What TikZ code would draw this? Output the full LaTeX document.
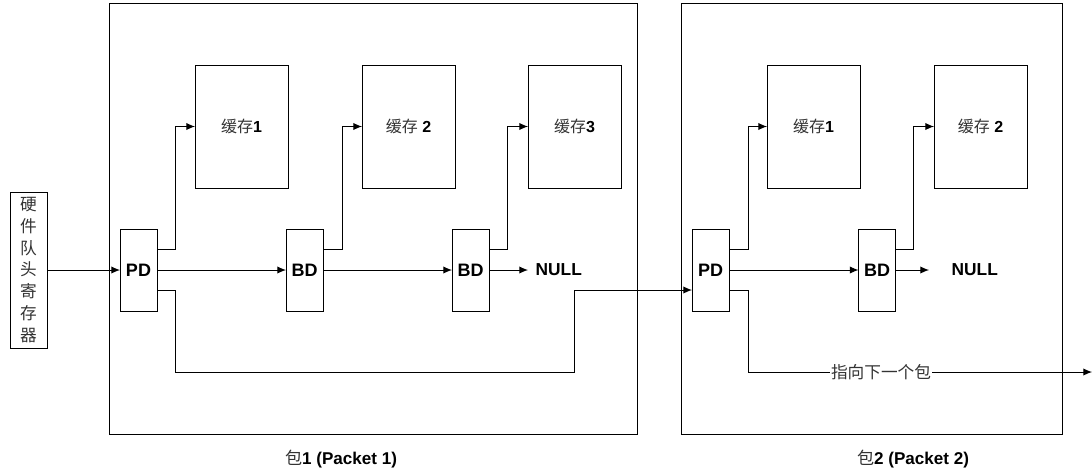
\documentclass[tikz,border=0pt]{standalone}
\usepackage{fontspec}
\setmainfont{Liberation Sans}
\newfontfamily\cjk{Noto Sans CJK SC}
\usetikzlibrary{calc,arrows.meta}
\begin{document}
\begin{tikzpicture}[x=0.75pt,y=-0.75pt,
  line width=0.75pt,
  every node/.style={inner sep=0pt,outer sep=0pt},
  box/.style={draw,rectangle,anchor=center},
  desc/.style={box,minimum width=27.75pt,minimum height=61.5pt,font=\bfseries\fontsize{13.5}{16}\selectfont},
  cache/.style={box,minimum width=69.75pt,minimum height=92.25pt,font=\fontsize{12}{14}\selectfont},
  pkt/.style={draw,rectangle},
  nulltxt/.style={font=\bfseries\fontsize{13}{15}\selectfont,anchor=west,inner sep=2pt},
  arr/.style={-{Latex[length=6.5pt,width=5.5pt]}},
  lbl/.style={font=\cjk\fontsize{12.5}{14}\selectfont\color{black!80}},
  caption/.style={font=\fontsize{12.8}{15}\selectfont}
]
\useasboundingbox (0,0) rectangle (1092,471);

% packets
\draw[pkt] (109,3) rectangle (637,434);
\draw[pkt] (681,3) rectangle (1062,434);

% register
\node[box,minimum width=27.75pt,minimum height=117pt,align=center,
      font=\cjk\fontsize{12.5}{16.3}\selectfont\color{black!80}] (reg) at (28.5,270)
      {硬\\件\\队\\头\\寄\\存\\器};

% packet 1
\node[desc] (pd1) at (138.5,270) {PD};
\node[cache] (c11) at (241.5,126.5) {{\cjk\color{black!80}缓存}\textbf{1}};
\node[desc] (bd11) at (304.5,270) {BD};
\node[cache] (c12) at (408.5,126.5) {{\cjk\color{black!80}缓存} \textbf{2}};
\node[desc] (bd12) at (470.5,270) {BD};
\node[cache] (c13) at (574.5,126.5) {{\cjk\color{black!80}缓存}\textbf{3}};
\node[nulltxt] (null1) at (533,270) {NULL};

% packet 2
\node[desc] (pd2) at (710.5,270) {PD};
\node[cache] (c21) at (813.5,126.5) {{\cjk\color{black!80}缓存}\textbf{1}};
\node[desc] (bd21) at (877,270) {BD};
\node[cache] (c22) at (980.5,126.5) {{\cjk\color{black!80}缓存} \textbf{2}};
\node[nulltxt] (null2) at (949,270) {NULL};

\node[lbl,inner sep=1pt] (next) at (881,372) {指向下一个包};
\coordinate (endp) at (1092,372);

% bottom labels
\node[caption] (l1) at (341,459) {{\cjk\color{black!80}包}\textbf{1 (Packet 1)}};
\node[caption] (l2) at (913,459) {{\cjk\color{black!80}包}\textbf{2 (Packet 2)}};

% connectors
\draw[arr] (reg.east) -- (pd1.west);
\draw[arr] ($(pd1.east)+(0,-21)$) -- ++(18,0) |- (c11.west);
\draw[arr] (pd1.east) -- (bd11.west);
\draw[arr] ($(bd11.east)+(0,-21)$) -- ++(19,0) |- (c12.west);
\draw[arr] (bd11.east) -- (bd12.west);
\draw[arr] ($(bd12.east)+(0,-21)$) -- ++(18,0) |- (c13.west);
\draw[arr] (bd12.east) -- ($(null1.west)+(-5,0)$);
\draw[arr] ($(pd1.east)+(0,20)$) -- ++(18,0) -- ++(0,82) -- ++(399,0) -- ++(0,-82) -- ($(pd2.west)+(0,20)$);

\draw[arr] ($(pd2.east)+(0,-21)$) -- ++(19,0) |- (c21.west);
\draw[arr] (pd2.east) -- (bd21.west);
\draw[arr] ($(bd21.east)+(0,-21)$) -- ++(18,0) |- (c22.west);
\draw[arr] (bd21.east) -- ($(null2.west)+(-20,0)$);
\draw ($(pd2.east)+(0,20)$) -- ++(19,0) |- (next.west);
\draw[arr] (next.east) -- (endp);
\end{tikzpicture}
\end{document}
